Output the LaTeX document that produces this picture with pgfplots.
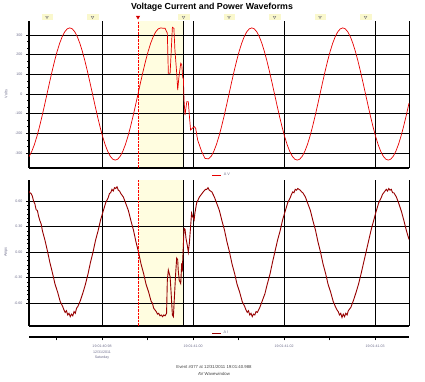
\documentclass[border=0pt]{standalone}
\usepackage{fontspec}
\setmainfont{Liberation Sans}
\usepackage{pgfplots}
\pgfplotsset{compat=1.18}
\definecolor{vred}{RGB}{230,0,0}
\definecolor{idark}{RGB}{150,0,0}
\definecolor{cursorfill}{RGB}{255,253,224}
\definecolor{lblgray}{RGB}{110,110,140}
\definecolor{mkbg}{RGB}{250,248,205}
\pgfplotsset{panel/.style={
  scale only axis, width=380pt, xmin=-431.2, xmax=1072,
  axis x line*=bottom, axis y line*=left,
  xtick={-142.4,178,217.6,577.6,937.6,1072}, xticklabels={},
  xmajorgrids, ymajorgrids,
  major x tick style={draw=none},
  grid style={black, line width=0.9pt},
  axis line style={black, line width=1.2pt},
  tick style={black, line width=0.6pt},
  tick align=outside, major tick length=3pt, minor tick length=2pt,
  y tick label style={font=\fontsize{3.6}{4}\selectfont, text=lblgray},
  set layers,
  legend style={draw=none, fill=none, font=\fontsize{3.8}{4}\selectfont, text=lblgray, inner sep=0pt, anchor=north},
  legend image code/.code={\draw[#1] (0pt,0pt) -- (9pt,0pt);},
}}
\begin{document}
\begin{tikzpicture}
% ---------- Voltage panel ----------
\begin{axis}[panel, at={(29pt,214pt)}, anchor=south west, height=147pt,
  ymin=-376, ymax=371, ytick={-300,-200,-100,0,100,200,300},
  yticklabels={-300,-200,-100,0,100,200,300}, minor y tick num=2,
  clip=false, legend style={at={(0.508,-0.02)}}]
\addplot[fill=cursorfill, draw=none, forget plot, on layer=axis background] coordinates {(0,-376) (178,-376) (178,371) (0,371)} -- cycle;
\addplot[vred, line width=0.7pt] coordinates {
(-431.2,-318) (-430,-315.7) (-420,-291) (-410,-257.4) (-400,-216) (-390,-168) (-380,-114.9) (-370,-58.3) (-360,0) (-350,58.3) (-340,114.9) (-330,168) (-320,216) (-310,257.4) (-300,291) (-290,315.7) (-280,330.9) (-270,336) (-260,330.9) (-250,315.7) (-240,291) (-230,257.4) (-220,216) (-210,168) (-200,114.9) (-190,58.3) (-180,0) (-170,-58.3) (-160,-114.9) (-150,-168) (-140,-216) (-130,-257.4) (-120,-291) (-110,-315.7) (-100,-330.9) (-90,-336) (-80,-330.9) (-70,-315.7) (-60,-291) (-50,-257.4) (-40,-216) (-30,-168) (-20,-114.9) (-10,-58.3) (0,0) (10,58.3) (20,114.9) (30,168) (40,216) (50,257.4) (60,291) (70,315.7) (80,330.9) (90,336)
(100,334) (107,334) (116,309) (120,105) (127,105) (131,208) (136,339) (142,334) (146,224) (153,107) (157,20) (162,88) (169,156) (173,150) (177,81) (179.5,81) (182,-30) (186,-107) (193,-39) (199,-39) (203,-107) (208,-183) (215,-174) (223,-166) (228,-174) (236,-234) (252,-293) (265,-327) (278,-330) (290,-315.7)
(300,-291) (310,-257.4) (320,-216) (330,-168) (340,-114.9) (350,-58.3) (360,0) (370,58.3) (380,114.9) (390,168) (400,216) (410,257.4) (420,291) (430,315.7) (440,330.9) (450,336) (460,330.9) (470,315.7) (480,291) (490,257.4) (500,216) (510,168) (520,114.9) (530,58.3) (540,0) (550,-58.3) (560,-114.9) (570,-168) (580,-216) (590,-257.4) (600,-291) (610,-315.7) (620,-330.9) (630,-336) (640,-330.9) (650,-315.7) (660,-291) (670,-257.4) (680,-216) (690,-168) (700,-114.9) (710,-58.3) (720,0) (730,58.3) (740,114.9) (750,168) (760,216) (770,257.4) (780,291) (790,315.7) (800,330.9) (810,336) (820,330.9) (830,315.7) (840,291) (850,257.4) (860,216) (870,168) (880,114.9) (890,58.3) (900,0) (910,-58.3) (920,-114.9) (930,-168) (940,-216) (950,-257.4) (960,-291) (970,-315.7) (980,-330.9) (990,-336) (1000,-330.9) (1010,-315.7) (1020,-291) (1030,-257.4) (1040,-216) (1050,-168) (1060,-114.9) (1070,-58.3) (1072,-46.8)};
\addlegendentry{A V}
\draw[red, line width=0.9pt, dash pattern=on 2.5pt off 1pt] (axis cs:0,-376) -- (axis cs:0,371);
\addplot[mkbg, only marks, mark=square*, mark size=2.6pt, mark options={xscale=2, fill=mkbg, draw=mkbg}, forget plot] coordinates {(-360,391) (-180,391) (180,391) (360,391) (540,391) (720,391) (900,391)};
\addplot[gray, only marks, mark=triangle, mark size=1.6pt, mark options={rotate=180, draw=gray, line width=0.4pt}, forget plot] coordinates {(-360,391) (-180,391) (180,391) (360,391) (540,391) (720,391) (900,391)};
\addplot[red, only marks, mark=triangle*, mark size=2pt, mark options={rotate=180, fill=idark, draw=red}, forget plot] coordinates {(0,391)};
\end{axis}
% ---------- Current panel ----------
\begin{axis}[panel, at={(29pt,56pt)}, anchor=south west, height=146pt,
  ymin=-0.87, ymax=0.85, ytick={-0.6,-0.3,0,0.3,0.6},
  yticklabels={-0.60,-0.30,0.00,0.30,0.60}, minor y tick num=5,
  legend style={at={(0.505,-0.02)}}]
\addplot[fill=cursorfill, draw=none, forget plot, on layer=axis background] coordinates {(0,-0.87) (178,-0.87) (178,0.85) (0,0.85)} -- cycle;
\addplot[idark, line width=0.9pt] coordinates {
(-431.2,0.72) (-428,0.70) (-423,0.69) (-418,0.66) (-413,0.60) (-408,0.57) (-403,0.50) (-398,0.49) (-393,0.42) (-388,0.37) (-383,0.33) (-378,0.25) (-368,0.14) (-358,0.01) (-348,-0.13) (-338,-0.25) (-328,-0.38) (-318,-0.47) (-308,-0.58) (-298,-0.64) (-293,-0.68) (-288,-0.71) (-283,-0.69) (-278,-0.74) (-273,-0.72) (-268,-0.76) (-263,-0.73) (-258,-0.75) (-253,-0.70) (-248,-0.72) (-243,-0.66) (-238,-0.64) (-228,-0.57) (-218,-0.48) (-208,-0.38) (-198,-0.26) (-188,-0.12) (-178,0.00) (-168,0.14) (-158,0.25) (-148,0.38) (-138,0.48) (-128,0.58) (-118,0.64) (-113,0.69) (-108,0.70) (-103,0.74) (-98,0.72) (-93,0.76) (-88,0.75) (-83,0.77) (-78,0.73) (-73,0.72) (-68,0.69) (-58,0.65) (-48,0.57) (-38,0.49) (-28,0.37) (-18,0.26) (-8,0.12) (2,0.00) (12,-0.14) (22,-0.25) (32,-0.38) (42,-0.47) (52,-0.58) (57,-0.60) (62,-0.66) (67,-0.68) (72,-0.70) (77,-0.73) (82,-0.72) (87,-0.75) (92,-0.74) (97,-0.76) (102,-0.74) (107,-0.75) (113,-0.72)
(116,-0.33) (120,-0.21) (127,-0.29) (131,-0.48) (136,-0.74) (140,-0.76) (144,-0.53) (149,-0.25) (153,-0.07) (157,-0.09) (159,-0.21) (163,-0.33) (169,-0.37) (173,-0.13) (175,-0.23) (179,0.05) (182,0.28) (186,0.27) (190,0.16) (195,0.08) (199,0.00) (203,0.10) (208,0.30) (212,0.46) (216,0.42) (222,0.38) (225,0.46) (232,0.58) (243,0.65) (258,0.71)
(267,0.74) (272,0.74) (277,0.76) (282,0.73) (292,0.71) (302,0.65) (312,0.57) (322,0.49) (332,0.37) (342,0.26) (352,0.12) (362,0.00) (372,-0.14) (382,-0.25) (392,-0.38) (402,-0.47) (412,-0.58) (422,-0.64) (427,-0.68) (432,-0.71) (437,-0.69) (442,-0.74) (447,-0.72) (452,-0.76) (457,-0.73) (462,-0.74) (467,-0.70) (472,-0.71) (482,-0.65) (492,-0.57) (502,-0.49) (512,-0.37) (522,-0.26) (532,-0.12) (542,0.01) (552,0.14) (562,0.25) (572,0.38) (582,0.48) (592,0.58) (602,0.64) (607,0.68) (612,0.71) (617,0.70) (622,0.74) (627,0.73) (632,0.75) (637,0.74) (642,0.73) (647,0.71) (652,0.70) (662,0.65) (672,0.57) (682,0.49) (692,0.37) (702,0.26) (712,0.12) (722,0.00) (732,-0.14) (742,-0.25) (752,-0.38) (762,-0.47) (772,-0.58) (782,-0.65) (787,-0.68) (792,-0.70) (797,-0.74) (802,-0.72) (807,-0.77) (812,-0.73) (817,-0.76) (822,-0.72) (827,-0.74) (832,-0.69) (842,-0.65) (852,-0.57) (862,-0.48) (872,-0.38) (882,-0.26) (892,-0.13) (902,0.00) (912,0.13) (922,0.26) (932,0.37) (942,0.48) (952,0.58) (962,0.64) (967,0.68) (972,0.70) (977,0.72) (982,0.74) (987,0.72) (992,0.75) (997,0.73) (1002,0.74) (1007,0.70) (1012,0.70) (1022,0.65) (1032,0.57) (1042,0.48) (1052,0.37) (1062,0.25) (1072,0.15)};
\addlegendentry{A I}
\draw[red, line width=0.9pt, dash pattern=on 2.5pt off 1pt] (axis cs:0,-0.87) -- (axis cs:0,0.85);
\end{axis}
% ---------- Time axis ----------
\begin{axis}[scale only axis, width=380pt, height=1pt, at={(29pt,45pt)}, anchor=south west,
  xmin=-431.2, xmax=1072, ymin=0, ymax=1,
  axis x line*=bottom, hide y axis,
  axis line style={black, line width=1.2pt},
  xtick={-142.4,217.6,577.6,937.6}, minor xtick={-322.4,37.6,397.6,757.6},
  xticklabels={{19:01:40.98\\12/31/2011\\Saturday},{19:01:41.00},{19:01:41.02},{19:01:41.03}},
  tick align=outside, major tick length=3.5pt, minor tick length=3.5pt,
  tick style={black, line width=0.9pt},
  x tick label style={font=\fontsize{3.6}{5.6}\selectfont, text=lblgray, align=center, anchor=north, yshift=-1pt}]
\addplot[draw=none, forget plot] coordinates {(0,0)};
\end{axis}
% ---------- Texts ----------
\node[font=\bfseries\fontsize{8.8}{10}\selectfont] at (212pt,374.5pt) {Voltage Current and Power Waveforms};
\node[rotate=90, font=\fontsize{3.8}{4}\selectfont, text=lblgray] at (6pt,288pt) {Volts};
\node[rotate=90, font=\fontsize{3.8}{4}\selectfont, text=lblgray] at (6pt,130pt) {Amps};
\node[font=\fontsize{4.3}{5}\selectfont, text=black!75] at (214pt,15pt) {Event \#377 at 12/31/2011 19:01:40.988};
\node[font=\fontsize{4.3}{5}\selectfont, text=black!75] at (214pt,8.5pt) {AV Wavewindow};
\path (0,0) rectangle (425pt,382pt);
\end{tikzpicture}
\end{document}
